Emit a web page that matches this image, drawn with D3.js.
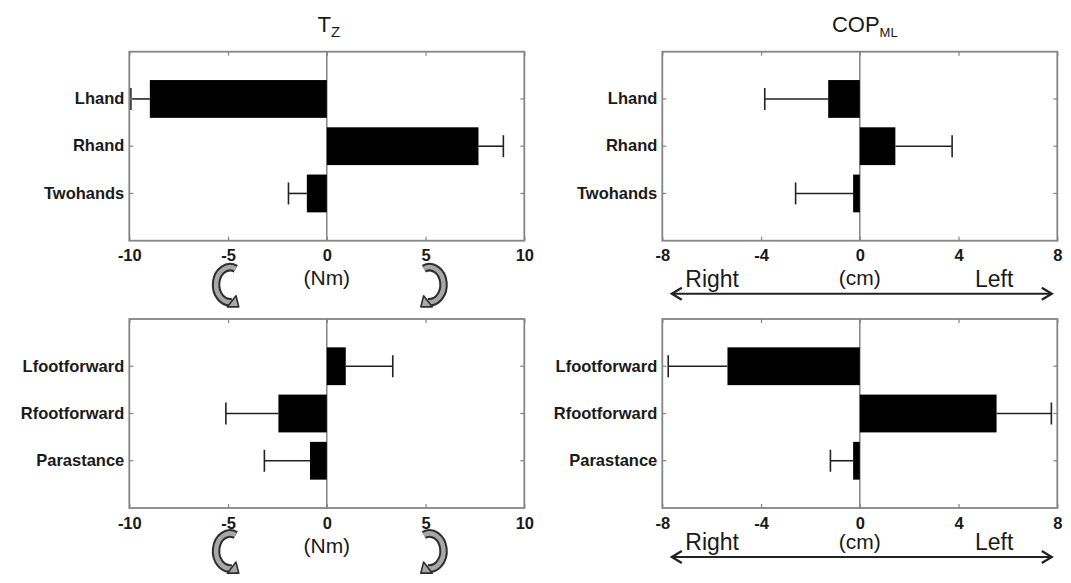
<!DOCTYPE html>
<html>
<head>
<meta charset="utf-8">
<script src="https://cdn.jsdelivr.net/npm/d3@7"></script>
<style>
  body { margin: 0; background: #fff; }
  text { font-family: "Liberation Sans", Arial, sans-serif; }
</style>
</head>
<body>
<div id="wrapper"></div>
<script>
// Data
const handCategories = ["Lhand", "Rhand", "Twohands"]
const footCategories = ["Lfootforward", "Rfootforward", "Parastance"]

const tzHands = [-8.96, 7.68, -1.01]
const tzHandsErr = [0.96, 1.26, 0.93]
const tzFeet = [0.96, -2.45, -0.85]
const tzFeetErr = [2.38, 2.66, 2.31]

const copHands = [-1.28, 1.44, -0.27]
const copHandsErr = [2.57, 2.30, 2.33]
const copFeet = [-5.36, 5.54, -0.27]
const copFeetErr = [2.40, 2.22, 0.92]

const tzTicks = [-10, -5, 0, 5, 10]
const copTicks = [-8, -4, 0, 4, 8]

// Layout
const dms = {
  width: 1071,
  height: 583,
  panelWidth: 395,
  panelHeight: 189,
  col: [129.3, 662.3],
  row: [51.7, 319],
}

const frameColor = "#858585"
const inkColor = "#1a1a1a"

const svg = d3.select("#wrapper")
  .append("svg")
  .attr("width", dms.width)
  .attr("height", dms.height)

function drawPanel({ left, top, categories, values, errors, domain, ticks }) {
  const g = svg.append("g")
    .attr("transform", `translate(${left},${top})`)

  const xScale = d3.scaleLinear()
    .domain(domain)
    .range([0, dms.panelWidth])

  const yScale = d3.scaleBand()
    .domain(categories)
    .range([0, dms.panelHeight])
    .paddingInner(0.2)
    .paddingOuter(0.6)

  // zero line
  g.append("line")
    .attr("x1", xScale(0)).attr("x2", xScale(0))
    .attr("y1", 0).attr("y2", dms.panelHeight)
    .attr("stroke", frameColor)
    .attr("stroke-width", 1.5)

  const rows = categories.map((c, i) => ({ c, v: values[i], e: errors[i] }))

  // bars
  g.selectAll(".bar")
    .data(rows)
    .join("rect")
    .attr("class", "bar")
    .attr("x", d => xScale(Math.min(0, d.v)))
    .attr("y", d => yScale(d.c))
    .attr("width", d => Math.abs(xScale(d.v) - xScale(0)))
    .attr("height", yScale.bandwidth())
    .attr("fill", "#000")

  // one-sided error bars
  const capHalf = 11
  const errEnd = d => xScale(d.v + Math.sign(d.v) * d.e)
  const yMid = d => yScale(d.c) + yScale.bandwidth() / 2

  g.selectAll(".err")
    .data(rows)
    .join("line")
    .attr("class", "err")
    .attr("x1", d => xScale(d.v))
    .attr("x2", errEnd)
    .attr("y1", yMid).attr("y2", yMid)
    .attr("stroke", "#222")
    .attr("stroke-width", 1.6)

  g.selectAll(".cap")
    .data(rows)
    .join("line")
    .attr("class", "cap")
    .attr("x1", errEnd).attr("x2", errEnd)
    .attr("y1", d => yMid(d) - capHalf)
    .attr("y2", d => yMid(d) + capHalf)
    .attr("stroke", "#222")
    .attr("stroke-width", 1.6)

  // axes (ticks inside, like matlab)
  const xAxis = g.append("g")
    .attr("transform", `translate(0,${dms.panelHeight})`)
    .call(d3.axisBottom(xScale).tickValues(ticks).tickFormat(d => String(d))
      .tickSizeInner(-4).tickSizeOuter(0).tickPadding(9))
  const xTop = g.append("g")
    .call(d3.axisTop(xScale).tickValues(ticks).tickSizeInner(-4).tickSizeOuter(0).tickFormat(""))
  const yAxis = g.append("g")
    .call(d3.axisLeft(yScale).tickSizeInner(-4).tickSizeOuter(0).tickPadding(5))
  const yRight = g.append("g")
    .attr("transform", `translate(${dms.panelWidth},0)`)
    .call(d3.axisRight(yScale).tickSizeInner(-4).tickSizeOuter(0).tickFormat(""))

  ;[xAxis, xTop, yAxis, yRight].forEach(a => {
    a.select(".domain").remove()
    a.selectAll("line").attr("stroke", frameColor).attr("stroke-width", 1.2)
    a.selectAll("text")
      .attr("fill", inkColor)
      .style("font-family", "'Liberation Sans', Arial, sans-serif")
      .style("font-weight", "bold")
  })
  xAxis.selectAll("text").style("font-size", "16.5px")
  yAxis.selectAll("text").style("font-size", "16.5px")

  // frame
  g.append("rect")
    .attr("width", dms.panelWidth)
    .attr("height", dms.panelHeight)
    .attr("fill", "none")
    .attr("stroke", frameColor)
    .attr("stroke-width", 1.8)

  return { g, xScale }
}

// curved rotation arrow icon ("C" shape, head at the bottom)
function turnArrow(sel, cx, cy, flip) {
  const g = sel.append("g")
    .attr("transform", `translate(${cx},${cy}) scale(${flip},1)`)
  const rx = 14, ry = 17.5
  const a0 = -66 * Math.PI / 180
  const a1 = 80 * Math.PI / 180
  const p0 = [rx * Math.cos(a0), ry * Math.sin(a0)]
  const p1 = [rx * Math.cos(a1), ry * Math.sin(a1)]
  const d = `M${p0[0]},${p0[1]} A${rx},${ry} 0 1 0 ${p1[0]},${p1[1]}`

  g.append("path").attr("d", d).attr("fill", "none")
    .attr("stroke", "#2e2e2e").attr("stroke-width", 8.5)
  g.append("path").attr("d", d).attr("fill", "none")
    .attr("stroke", "#a8a8a8").attr("stroke-width", 4.5)

  const ang = 38 * Math.PI / 180
  const dir = [Math.cos(ang), Math.sin(ang)]
  const perp = [-dir[1], dir[0]]
  const base = [p1[0] - dir[0] * 1, p1[1] - dir[1] * 1]
  const tip = [p1[0] + dir[0] * 8, p1[1] + dir[1] * 8]
  const b1 = [base[0] + perp[0] * 7, base[1] + perp[1] * 7]
  const b2 = [base[0] - perp[0] * 7, base[1] - perp[1] * 7]
  g.append("polygon")
    .attr("points", [b1, tip, b2].map(p => p.join(",")).join(" "))
    .attr("fill", "#a8a8a8")
    .attr("stroke", "#2e2e2e")
    .attr("stroke-width", 1.6)
    .attr("stroke-linejoin", "round")
}

function doubleArrow(g, x1, x2, y) {
  g.append("line")
    .attr("x1", x1).attr("x2", x2)
    .attr("y1", y).attr("y2", y)
    .attr("stroke", "#222").attr("stroke-width", 2)
  g.append("path")
    .attr("d", `M${x1 + 10},${y - 6} L${x1},${y} L${x1 + 10},${y + 6}`)
    .attr("fill", "none").attr("stroke", "#222").attr("stroke-width", 2.2)
  g.append("path")
    .attr("d", `M${x2 - 10},${y - 6} L${x2},${y} L${x2 - 10},${y + 6}`)
    .attr("fill", "none").attr("stroke", "#222").attr("stroke-width", 2.2)
}

const panels = [
  { left: dms.col[0], top: dms.row[0], categories: handCategories, values: tzHands, errors: tzHandsErr, domain: [-10, 10], ticks: tzTicks, kind: "tz", unitDy: 44.5, arrowDy: 44 },
  { left: dms.col[0], top: dms.row[1], categories: footCategories, values: tzFeet, errors: tzFeetErr, domain: [-10, 10], ticks: tzTicks, kind: "tz", unitDy: 44.5, arrowDy: 43 },
  { left: dms.col[1], top: dms.row[0], categories: handCategories, values: copHands, errors: copHandsErr, domain: [-8, 8], ticks: copTicks, kind: "cop", unitDy: 44, arrowDy: 53, textDy: 46.5 },
  { left: dms.col[1], top: dms.row[1], categories: footCategories, values: copFeet, errors: copFeetErr, domain: [-8, 8], ticks: copTicks, kind: "cop", unitDy: 41, arrowDy: 49, textDy: 42 },
]

panels.forEach(p => {
  const { g, xScale } = drawPanel(p)
  const H = dms.panelHeight
  const zeroX = xScale(0)

  g.append("text")
    .attr("x", zeroX)
    .attr("y", H + p.unitDy)
    .attr("text-anchor", "middle")
    .attr("fill", inkColor)
    .style("font-size", "21px")
    .text(p.kind === "tz" ? "(Nm)" : "(cm)")

  if (p.kind === "tz") {
    turnArrow(g, xScale(-5) + 2, H + p.arrowDy, 1)
    turnArrow(g, xScale(5) + 4, H + p.arrowDy, -1)
  } else {
    g.append("text")
      .attr("x", 23).attr("y", H + p.textDy)
      .attr("fill", inkColor)
      .style("font-size", "23px")
      .text("Right")
    g.append("text")
      .attr("x", dms.panelWidth - 44).attr("y", H + p.textDy)
      .attr("text-anchor", "end")
      .attr("fill", inkColor)
      .style("font-size", "23px")
      .text("Left")
    doubleArrow(g, 9.5, dms.panelWidth - 5.5, H + p.arrowDy)
  }

  if (p.top === dms.row[0]) {
    const title = g.append("text")
      .attr("x", zeroX + (p.kind === "tz" ? 2 : 5))
      .attr("y", -20)
      .attr("text-anchor", "middle")
      .attr("fill", inkColor)
      .style("font-size", "22px")
    if (p.kind === "tz") {
      title.append("tspan").text("T")
      title.append("tspan").attr("dy", 5).style("font-size", "15px").text("Z")
    } else {
      title.append("tspan").text("COP")
      title.append("tspan").attr("dy", 5).style("font-size", "13px").text("ML")
    }
  }
})
</script>
</body>
</html>
